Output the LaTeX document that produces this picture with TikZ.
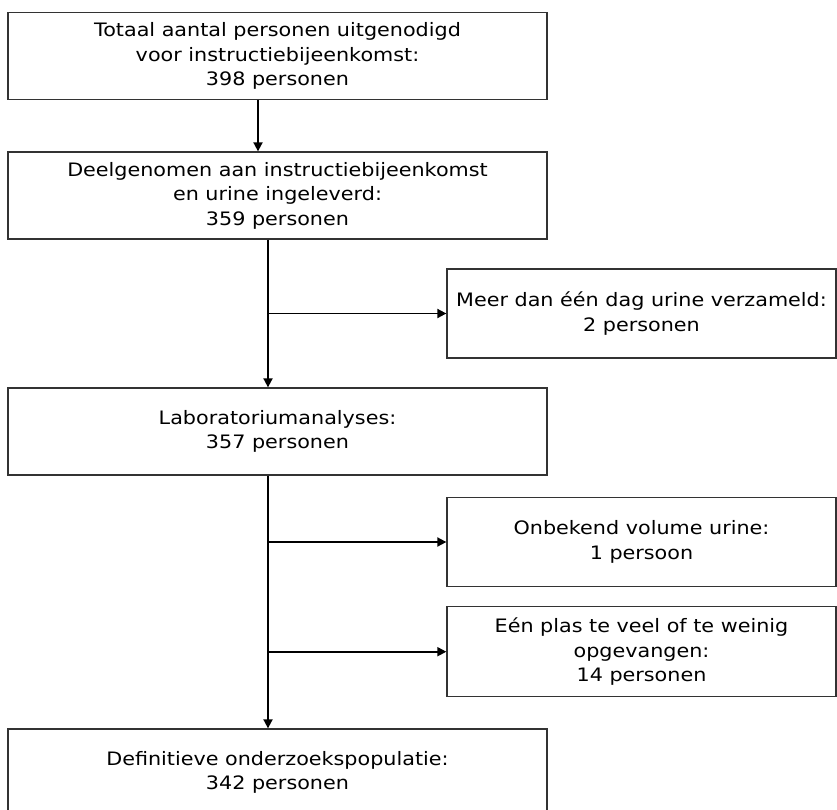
\documentclass[tikz,border=0pt]{standalone}
\usepackage{fontspec}
\setmainfont{DejaVu Sans}[FakeStretch=1.12]
\usetikzlibrary{arrows.meta}
\begin{document}
\begin{tikzpicture}[x=1pt,y=-1pt,
  box/.style={draw=black!80, line width=1.3pt, fill=white, inner sep=0pt, align=center,
    font=\fontsize{18.5pt}{24.5pt}\selectfont},
  leftbox/.style={box, minimum width=539pt, minimum height=87pt},
  rightbox/.style={box, minimum width=389pt, minimum height=89pt},
  arr/.style={line width=1.8pt, -{Triangle[length=9pt,width=9pt]}},
  ln/.style={line width=1.8pt}]
\useasboundingbox (0,0) rectangle (837,809);
\clip (0,0) rectangle (837,809);
\fill[white] (0,0) rectangle (837,809);
\node[leftbox] (b1) at (277.5,56) {Totaal aantal personen uitgenodigd\\voor instructiebijeenkomst:\\398 personen};
\node[leftbox] (b2) at (277.5,195.5) {Deelgenomen aan instructiebijeenkomst\\en urine ingeleverd:\\359 personen};
\node[leftbox] (b3) at (277.5,431.5) {Laboratoriumanalyses:\\357 personen};
\node[leftbox] (b5) at (277.5,772.5) {Definitieve onderzoekspopulatie:\\342 personen};
\node[rightbox] (m1) at (641.5,313.5) {Meer dan één dag urine verzameld:\\2 personen};
\node[rightbox] (m2) at (641.5,542) {Onbekend volume urine:\\1 persoon};
\node[rightbox, minimum height=90pt] (m3) at (641.5,651.7) {Eén plas te veel of te weinig\\opgevangen:\\14 personen};
\coordinate (a) at (258,0);
\coordinate (t) at (268,0);
\draw[arr] (b1.south -| a) -- (b2.north -| a);
\draw[arr] (b2.south -| t) -- (b3.north -| t);
\draw[arr] (b3.south -| t) -- (b5.north -| t);
\draw[arr] (m1.west -| t) -- (m1.west);
\draw[arr] (m2.west -| t) -- (m2.west);
\draw[arr] (m3.west -| t) -- (m3.west);
\end{tikzpicture}
\end{document}
